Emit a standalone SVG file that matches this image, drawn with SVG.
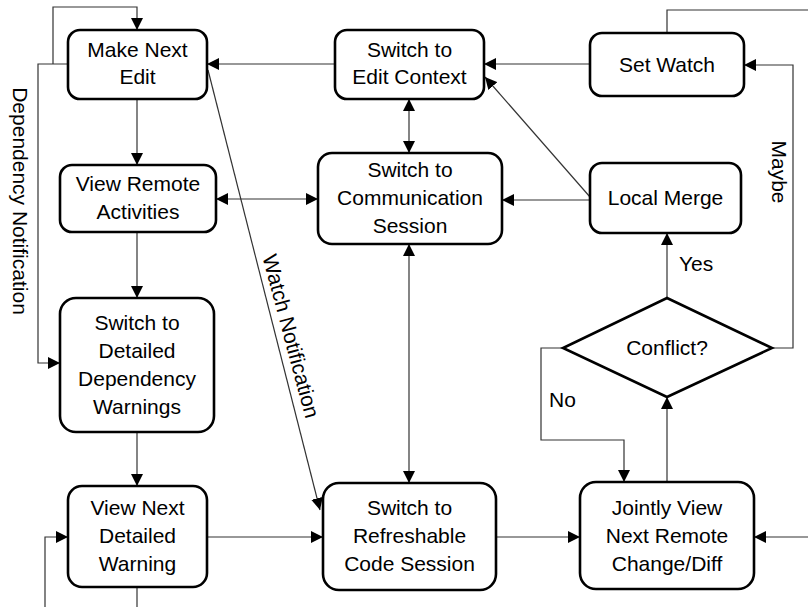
<svg xmlns="http://www.w3.org/2000/svg" width="808" height="607" viewBox="0 0 808 607">
<style>
.box{fill:#fff;stroke:#000;stroke-width:2.6}
.t{font-family:"Liberation Sans",Arial,sans-serif;font-size:21px;fill:#000;text-anchor:middle}
.lbl{font-family:"Liberation Sans",Arial,sans-serif;font-size:21px;fill:#000}
.c{fill:none;stroke:#333;stroke-width:1.2}
.a{marker-end:url(#ah)}
.b{marker-start:url(#ah);marker-end:url(#ah)}
</style>
<defs>
<marker id="ah" viewBox="0 0 12 12" refX="12" refY="6" markerWidth="12" markerHeight="12" markerUnits="userSpaceOnUse" orient="auto-start-reverse">
<path d="M0,0 L12,6 L0,12 z" fill="#000"/>
</marker>
</defs>
<rect width="808" height="607" fill="#fff"/>
<g id="connectors">
<path class="c a" d="M53,64 V7 H137 V30"/>
<path class="c a" d="M68,64 H38 V363 H60"/>
<path class="c a" d="M137,99 V165"/>
<path class="c a" d="M137,232 V298"/>
<path class="c a" d="M137,432 V486"/>
<path class="c" d="M137,587 V607"/>
<path class="c a" d="M45,607 V537 H68"/>
<path class="c a" d="M207,537 H323"/>
<path class="c a" d="M208,70 L320,510"/>
<path class="c a" d="M335,64 H207"/>
<path class="c a" d="M590,64 H484"/>
<path class="c b" d="M409,99 V153"/>
<path class="c b" d="M216,199 H318"/>
<path class="c b" d="M409,244 V483"/>
<path class="c a" d="M590,200 H502"/>
<path class="c a" d="M590,197 L485,77"/>
<path class="c a" d="M496,537 H580"/>
<path class="c a" d="M808,537 H754"/>
<path class="c a" d="M667,482 V397"/>
<path class="c a" d="M667,298 V233"/>
<path class="c a" d="M563,348 H541 V440 H624 V482"/>
<path class="c a" d="M772,348 H793 V65 H744"/>
<path class="c" d="M667,33 V10 H808"/>
<text class="lbl" transform="translate(13,201) rotate(90)" text-anchor="middle">Dependency Notification</text>
<text class="lbl" transform="translate(284,338) rotate(75)" text-anchor="middle">Watch Notification</text>
<text class="lbl" transform="translate(772,172) rotate(90)" text-anchor="middle">Maybe</text>
<text class="lbl" x="679" y="271">Yes</text>
<text class="lbl" x="549" y="407">No</text>
</g>
<g id="make-next-edit">
<rect class="box" x="68" y="30" width="139" height="69" rx="12"/>
<text class="t" x="137.5" y="57">Make Next</text>
<text class="t" x="137.5" y="84">Edit</text>
</g>
<g id="switch-edit-context">
<rect class="box" x="335" y="30" width="149" height="69" rx="12"/>
<text class="t" x="409.5" y="57">Switch to</text>
<text class="t" x="409.5" y="84">Edit Context</text>
</g>
<g id="set-watch">
<rect class="box" x="590" y="33" width="154" height="63" rx="12"/>
<text class="t" x="667" y="72">Set Watch</text>
</g>
<g id="view-remote-activities">
<rect class="box" x="60" y="165" width="156" height="67" rx="12"/>
<text class="t" x="138" y="191">View Remote</text>
<text class="t" x="138" y="219">Activities</text>
</g>
<g id="switch-communication-session">
<rect class="box" x="318" y="153" width="184" height="91" rx="14"/>
<text class="t" x="410" y="177">Switch to</text>
<text class="t" x="410" y="205">Communication</text>
<text class="t" x="410" y="233">Session</text>
</g>
<g id="local-merge">
<rect class="box" x="590" y="163" width="151" height="70" rx="12"/>
<text class="t" x="665.5" y="205">Local Merge</text>
</g>
<g id="switch-detailed-warnings">
<rect class="box" x="60" y="298" width="154" height="134" rx="16"/>
<text class="t" x="137" y="330">Switch to</text>
<text class="t" x="137" y="358">Detailed</text>
<text class="t" x="137" y="386">Dependency</text>
<text class="t" x="137" y="414">Warnings</text>
</g>
<g id="conflict">
<polygon class="box" points="667,298 772,348 667,397 563,348"/>
<text class="t" x="667" y="355">Conflict?</text>
</g>
<g id="view-next-detailed-warning">
<rect class="box" x="68" y="486" width="139" height="101" rx="14"/>
<text class="t" x="137.5" y="515">View Next</text>
<text class="t" x="137.5" y="543">Detailed</text>
<text class="t" x="137.5" y="571">Warning</text>
</g>
<g id="switch-refreshable-code-session">
<rect class="box" x="323" y="483" width="173" height="107" rx="16"/>
<text class="t" x="409.5" y="515">Switch to</text>
<text class="t" x="409.5" y="543">Refreshable</text>
<text class="t" x="409.5" y="571">Code Session</text>
</g>
<g id="jointly-view">
<rect class="box" x="580" y="482" width="174" height="107" rx="16"/>
<text class="t" x="667" y="515">Jointly View</text>
<text class="t" x="667" y="543">Next Remote</text>
<text class="t" x="667" y="571">Change/Diff</text>
</g>
</svg>
